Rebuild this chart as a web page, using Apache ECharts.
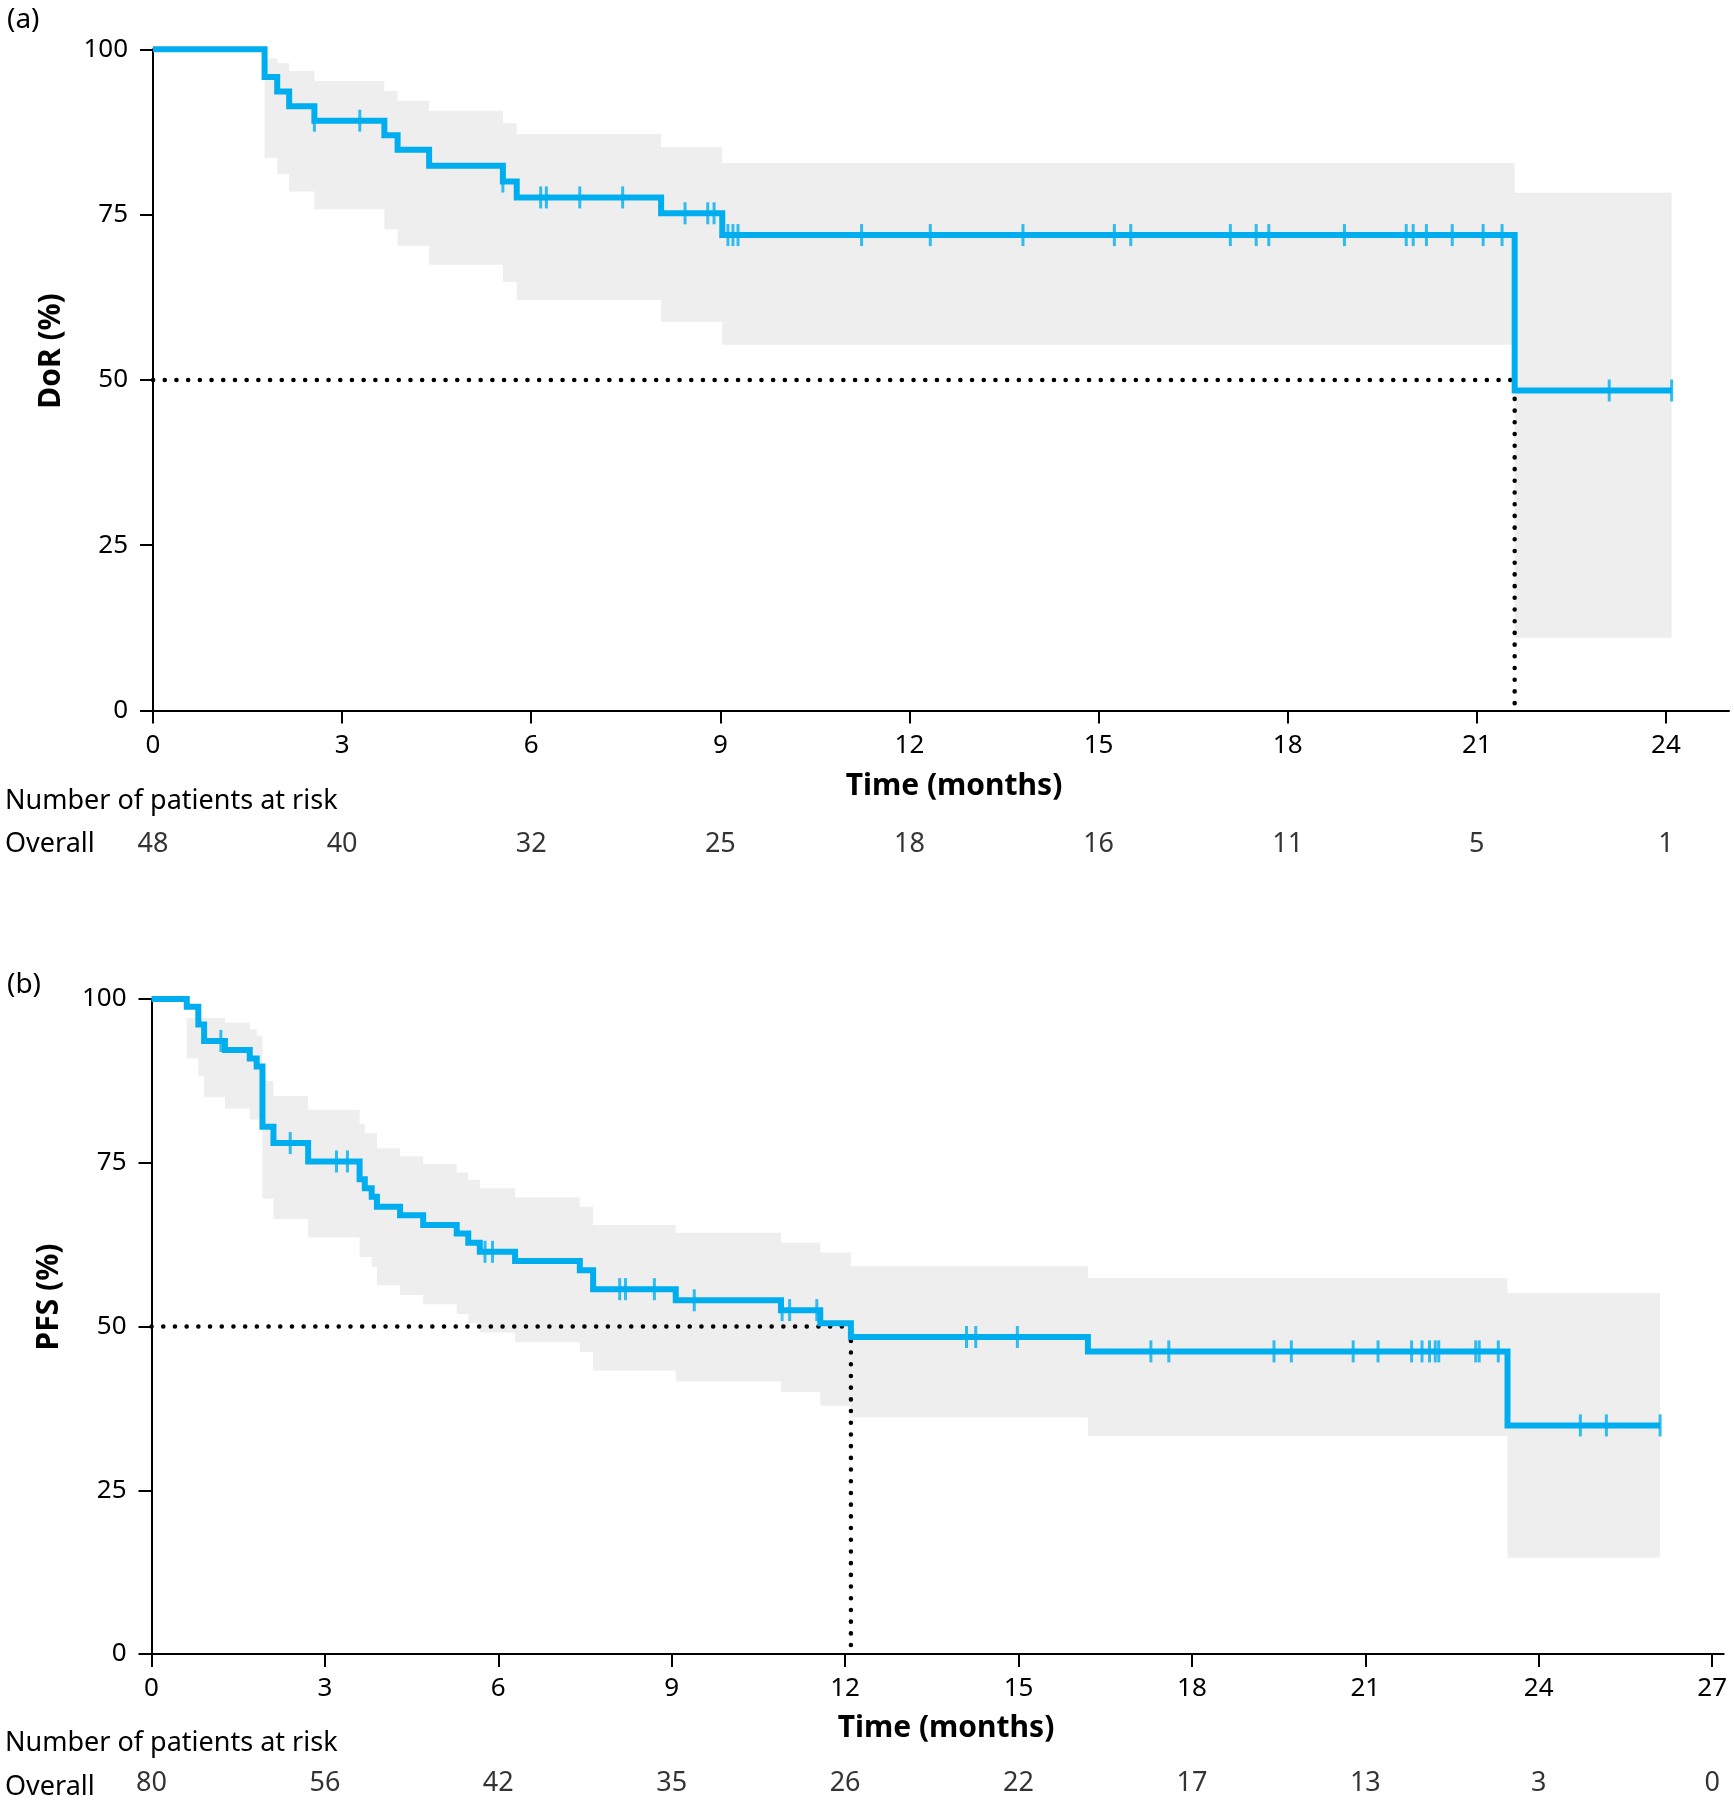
<!DOCTYPE html>
<html>
<head>
<meta charset="utf-8">
<script src="https://cdn.jsdelivr.net/npm/echarts@6/dist/echarts.min.js"></script>
<style>
  html, body { margin: 0; padding: 0; background: #fff; }
  #chart { width: 1734px; height: 1800px; }
</style>
</head>
<body>
<div id="chart"></div>
<script>
// (a) DoR - event times (months), KM estimate and CI after each event
var timesA = [1.77, 1.97, 2.16, 2.56, 3.67, 3.88, 4.38, 5.55, 5.77, 8.06, 9.03, 21.6];
var survA  = [95.8, 93.6, 91.4, 89.2, 87.0, 84.8, 82.4, 80.0, 77.6, 75.2, 71.9, 48.4];
var upperA = [98.6, 97.9, 96.7, 95.2, 93.7, 92.2, 90.7, 88.8, 87.2, 85.2, 82.8, 78.3];
var lowerA = [83.6, 81.1, 78.5, 75.8, 72.8, 70.3, 67.4, 64.8, 62.1, 58.8, 55.3, 11.0];
var endA = 24.09;
var censorA = [2.56, 3.28, 5.55, 6.15, 6.24, 6.77, 7.45, 8.44, 8.8, 8.9, 9.12, 9.2, 9.28,
  11.24, 12.33, 13.8, 15.25, 15.51, 17.09, 17.5, 17.7, 18.9, 19.88, 19.99, 20.2, 20.61,
  21.1, 21.4, 23.1, 24.09];
var medianA = 21.6;
var ticksA = [0, 3, 6, 9, 12, 15, 18, 21, 24];
var riskA = [48, 40, 32, 25, 18, 16, 11, 5, 1];

// (b) PFS
var timesB = [0.61, 0.81, 0.91, 1.27, 1.70, 1.82, 1.92, 2.11, 2.71, 3.60, 3.69, 3.81, 3.90, 4.30,
  4.70, 5.28, 5.48, 5.68, 6.29, 7.41, 7.64, 9.07, 10.89, 11.57, 12.10, 16.20, 23.46];
var survB  = [98.8, 96.1, 93.6, 92.2, 90.9, 89.7, 80.5, 78.0, 75.2, 72.5, 71.1, 69.8, 68.3, 67.0,
  65.5, 64.2, 62.8, 61.4, 60.0, 58.6, 55.7, 54.0, 52.5, 50.5, 48.4, 46.2, 34.9];
var upperB = [97.1, 97.1, 97.1, 96.4, 95.4, 94.4, 87.5, 85.2, 83.1, 80.9, 79.5, 79.5, 77.2, 76.0,
  74.8, 73.5, 72.4, 71.1, 69.7, 68.3, 65.5, 64.3, 62.8, 61.3, 59.2, 57.4, 55.1];
var lowerB = [90.9, 88.2, 85.0, 83.3, 81.6, 81.6, 69.5, 66.4, 63.6, 60.6, 60.6, 59.1, 56.3, 54.8,
  53.4, 51.9, 50.5, 49.1, 47.6, 46.1, 43.3, 41.6, 40.0, 37.9, 36.1, 33.3, 14.7];
var endB = 26.10;
var censorB = [1.20, 2.40, 3.20, 3.39, 5.77, 5.90, 8.10, 8.20, 8.70, 9.39, 10.91, 11.04, 11.51,
  14.10, 14.26, 14.98, 17.29, 17.60, 19.42, 19.72, 20.79, 21.22, 21.80, 21.98, 22.11, 22.21,
  22.27, 22.91, 22.97, 23.30, 24.72, 25.17, 26.10];
var medianB = 12.1;
var ticksB = [0, 3, 6, 9, 12, 15, 18, 21, 24, 27];
var riskB = [80, 56, 42, 35, 26, 22, 17, 13, 3, 0];

var BLUE = '#00AEEF';
var BAND = '#EEEEEE';
var FONT = "'Noto Sans', 'DejaVu Sans', sans-serif";

function kmAt(times, surv, t) {
  var v = 100;
  for (var i = 0; i < times.length; i++) {
    if (times[i] <= t + 1e-9) v = surv[i];
  }
  return v;
}

function curveData(times, surv, end) {
  var d = [[0, 100]];
  times.forEach(function (t, i) { d.push([t, surv[i]]); });
  d.push([end, surv[surv.length - 1]]);
  return d;
}

// grey CI band as one stepped polygon
function bandRender(times, upper, lower, end) {
  return function (params, api) {
    if (params.dataIndex !== 0) return null;
    var pts = [];
    var n = times.length;
    for (var i = 0; i < n; i++) {
      var t1 = i + 1 < n ? times[i + 1] : end;
      pts.push(api.coord([times[i], upper[i]]), api.coord([t1, upper[i]]));
    }
    for (var j = n - 1; j >= 0; j--) {
      var t2 = j + 1 < n ? times[j + 1] : end;
      pts.push(api.coord([t2, lower[j]]), api.coord([times[j], lower[j]]));
    }
    return { type: 'polygon', shape: { points: pts }, style: { fill: BAND } };
  };
}

function xAxisMain(gi, max, ticks) {
  return {
    type: 'value', gridIndex: gi, min: 0, max: max,
    axisLine: { show: true, onZero: false, lineStyle: { color: '#000', width: 2 } },
    axisTick: { show: true, customValues: ticks, length: 13, lineStyle: { color: '#000', width: 2 } },
    axisLabel: { customValues: ticks, fontSize: 26, margin: 22, color: '#000', fontFamily: FONT },
    splitLine: { show: false }
  };
}
function yAxisMain(gi) {
  return {
    type: 'value', gridIndex: gi, min: 0, max: 100, interval: 25,
    axisLine: { show: true, onZero: false, lineStyle: { color: '#000', width: 2 } },
    axisTick: { show: true, length: 13, lineStyle: { color: '#000', width: 2 } },
    axisLabel: { fontSize: 26, margin: 25, color: '#000', fontFamily: FONT },
    splitLine: { show: false }
  };
}
function hiddenX(gi, max) {
  return { type: 'value', gridIndex: gi, min: 0, max: max, show: false };
}
function hiddenY(gi) {
  return { type: 'value', gridIndex: gi, min: 0, max: 1, show: false };
}

function panelSeries(xi, riskXi, times, surv, upper, lower, end, cens, median, ticks, risk) {
  return [
    {
      type: 'custom', xAxisIndex: xi, yAxisIndex: xi, z: 1, silent: true,
      renderItem: bandRender(times, upper, lower, end),
      encode: { x: 0, y: [1, 2] },
      data: times.map(function (t, i) { return [t, lower[i], upper[i]]; })
    },
    {
      type: 'line', xAxisIndex: xi, yAxisIndex: xi, z: 3, symbol: 'none', clip: false,
      lineStyle: { color: '#000', width: 4.5, type: [0.1, 11.6], cap: 'round' },
      data: [[0, 50], [median, 50], [median, 0]]
    },
    {
      type: 'line', xAxisIndex: xi, yAxisIndex: xi, z: 4, step: 'end', symbol: 'none', clip: false,
      lineStyle: { color: BLUE, width: 6, join: 'miter' },
      data: curveData(times, surv, end)
    },
    {
      type: 'scatter', xAxisIndex: xi, yAxisIndex: xi, z: 5, symbol: 'rect', symbolSize: [3, 22],
      clip: false, itemStyle: { color: BLUE },
      data: cens.map(function (t) { return [t, kmAt(times, surv, t)]; })
    },
    {
      type: 'scatter', xAxisIndex: riskXi, yAxisIndex: riskXi, symbolSize: 1,
      itemStyle: { color: '#fff' },
      label: {
        show: true, position: 'inside', fontSize: 27, color: '#000', fontFamily: FONT,
        textBorderWidth: 0,
        formatter: function (p) { return String(p.value[2]); }
      },
      data: ticks.map(function (t, i) { return [t, 0.5, risk[i]]; })
    }
  ];
}

function txt(x, y, s, size, opts) {
  opts = opts || {};
  return {
    type: 'text', x: x, y: y, rotation: opts.rotation || 0,
    style: {
      text: s, fontSize: size, fontWeight: opts.bold ? 'bold' : 'normal', fontFamily: FONT,
      fill: '#000', align: opts.align || 'left', verticalAlign: 'middle'
    }
  };
}

var chart = echarts.init(document.getElementById('chart'));
chart.setOption({
  animation: false,
  backgroundColor: '#fff',
  textStyle: { fontFamily: FONT },
  grid: [
    { left: 153, top: 49.3, width: 1576, height: 661.2 },
    { left: 153, top: 824, width: 1576, height: 40 },
    { left: 151.5, top: 999, width: 1572.2, height: 655 },
    { left: 151.5, top: 1767, width: 1572.2, height: 40 }
  ],
  xAxis: [xAxisMain(0, 25, ticksA), hiddenX(1, 25), xAxisMain(2, 27.2, ticksB), hiddenX(3, 27.2)],
  yAxis: [yAxisMain(0), hiddenY(1), yAxisMain(2), hiddenY(3)],
  graphic: [
    txt(7, 20, '(a)', 28),
    txt(51, 351, 'DoR (%)', 30, { bold: true, align: 'center', rotation: Math.PI / 2 }),
    txt(954, 786, 'Time (months)', 30, { bold: true, align: 'center' }),
    txt(5, 801, 'Number of patients at risk', 27),
    txt(5, 844, 'Overall', 27),
    txt(7, 985, '(b)', 28),
    txt(49, 1297, 'PFS (%)', 30, { bold: true, align: 'center', rotation: Math.PI / 2 }),
    txt(946, 1728, 'Time (months)', 30, { bold: true, align: 'center' }),
    txt(5, 1743, 'Number of patients at risk', 27),
    txt(5, 1787, 'Overall', 27)
  ],
  series: panelSeries(0, 1, timesA, survA, upperA, lowerA, endA, censorA, medianA, ticksA, riskA)
    .concat(panelSeries(2, 3, timesB, survB, upperB, lowerB, endB, censorB, medianB, ticksB, riskB))
});
</script>
</body>
</html>
